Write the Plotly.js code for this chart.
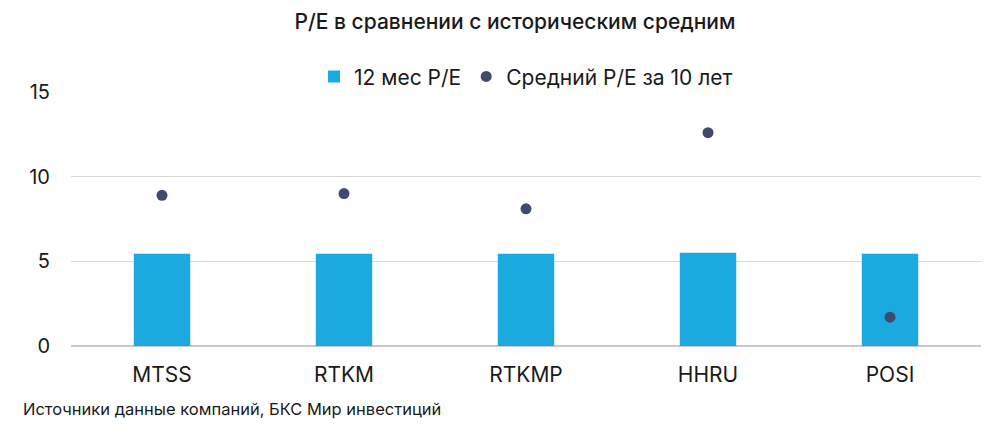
<!DOCTYPE html>
<html><head><meta charset="utf-8">
<script src="https://cdn.plot.ly/plotly-3.0.1.min.js"></script>
<style>body{margin:0;background:#fff}#c{width:1000px;height:437px}</style>
</head><body><div id="c"></div>
<script>
const categories = ["MTSS", "RTKM", "RTKMP", "HHRU", "POSI"];
const pe12m = [5.45, 5.45, 5.45, 5.5, 5.45];
const peAvg10y = [8.9, 9.0, 8.1, 12.6, 1.7];
const yTicks = [0, 5, 10, 15];

const font = "Inter, Roboto, 'Noto Sans', sans-serif";
const traces = [
  {type: "bar", name: "12 мес P/E", x: categories, y: pe12m,
   marker: {color: "#1BA9E0"}, width: 0.31},
  {type: "scatter", mode: "markers", name: "Средний P/E за 10 лет", x: categories, y: peAvg10y,
   marker: {color: "#3F4A6E", size: 11}}
];
const layout = {
  width: 1000, height: 437,
  margin: {l: 71, r: 19, t: 92, b: 91},
  paper_bgcolor: "#fff", plot_bgcolor: "#fff",
  font: {family: font, color: "#1a1a1a", size: 18},
  title: {text: "P/E в сравнении с историческим средним", x: 0.515, xanchor: "center",
          y: 0.95, yanchor: "middle", font: {size: 21, color: "#1a1a1a", family: font, weight: 500}},
  showlegend: true,
  legend: {orientation: "h", x: 0.5, xanchor: "center", y: 1.06, yanchor: "middle",
           font: {size: 21, family: font}, itemwidth: 30, tracegroupgap: 0},
  xaxis: {type: "category", showgrid: false, ticks: "", tickfont: {size: 21, family: font},
          showline: false, zeroline: false, ticklabelstandoff: 14},
  yaxis: {range: [0, 15], tickvals: yTicks, ticktext: yTicks.map(String),
          showgrid: true, gridcolor: "#d9d9d9", gridwidth: 1,
          zeroline: true, zerolinecolor: "#c8c8c8", zerolinewidth: 2,
          tickfont: {size: 20, family: font}, ticklabelstandoff: 20, ticks: ""},
  annotations: [{text: "Источники данные компаний, БКС Мир инвестиций", xref: "paper", yref: "paper",
    x: -0.055, y: -0.2, xanchor: "left", yanchor: "top", showarrow: false,
    font: {size: 16.5, family: font, color: "#1a1a1a"}}]
};
Plotly.newPlot("c", traces, layout, {displayModeBar: false, staticPlot: true});
</script></body></html>
